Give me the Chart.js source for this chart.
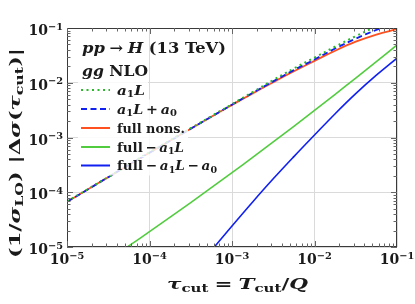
<!DOCTYPE html>
<html><head><meta charset="utf-8">
<script src="https://cdn.jsdelivr.net/npm/chart.js@4/dist/chart.umd.min.js"></script>
<style>html,body{margin:0;padding:0;background:#fff;}canvas{display:block;}</style>
</head><body>
<canvas id="c" width="415" height="304"></canvas>
<script>
// ---- data ----
const TAU = [1e-5,1.78e-5,3.16e-5,5.62e-5,1e-4,1.78e-4,3.16e-4,5.62e-4,1e-3,1.78e-3,3.16e-3,5.62e-3,1e-2,1.78e-2,3.16e-2,5.62e-2,1e-1];
const A1L = [6.76e-5,1.135e-4,1.905e-4,3.20e-4,5.37e-4,8.91e-4,1.479e-3,2.455e-3,4.07e-3,6.76e-3,1.122e-2,1.82e-2,2.88e-2,4.57e-2,7.08e-2,0.1072,0.1585];
const A1L_A0 = [6.68e-5,1.122e-4,1.884e-4,3.16e-4,5.25e-4,8.71e-4,1.445e-3,2.40e-3,3.98e-3,6.53e-3,1.059e-2,1.70e-2,2.66e-2,4.22e-2,6.38e-2,9.23e-2,0.1288];
const FULL_NONS = [6.68e-5,1.122e-4,1.884e-4,3.16e-4,5.25e-4,8.71e-4,1.445e-3,2.40e-3,3.94e-3,6.38e-3,1.023e-2,1.622e-2,2.51e-2,3.85e-2,5.62e-2,7.59e-2,9.55e-2];
const FULL_MINUS_A1L = [null,null,5.79e-6,1.047e-5,1.905e-5,3.50e-5,6.47e-5,1.211e-4,2.28e-4,4.34e-4,8.30e-4,1.603e-3,3.13e-3,6.14e-3,1.216e-2,2.43e-2,4.90e-2];
const FULL_MINUS_A1L_A0 = [null,null,null,null,null,null,3.02e-6,8.61e-6,2.42e-5,6.65e-5,1.758e-4,4.47e-4,1.109e-3,2.72e-3,6.32e-3,1.374e-2,2.82e-2];
const X_TICKS = [1e-5,1e-4,1e-3,1e-2,1e-1];
const X_TICK_EXP = ['\u22125','\u22124','\u22123','\u22122','\u22121'];
const Y_TICKS = [1e-5,1e-4,1e-3,1e-2,1e-1];
const Y_TICK_EXP = ['\u22125','\u22124','\u22123','\u22122','\u22121'];

// ---- styling ----
const FONT = '"DejaVu Serif", serif';
const RED = '#ff5020', GREEN_DOT = '#2db82d', GREEN = '#52cc3f', BLUE = '#1020f0';

function pts(arr){ return TAU.map((x,i)=>({x:x, y:arr[i]})); }

// r: roman bold, i: italic bold, s: subscript, sup: superscript, o: binary operator (spaced), rel: relation (spaced)
const LEGEND = [
  {ds:0, w:28,  parts:[['a','i'],['1','s'],['L','i']]},
  {ds:1, w:60,  parts:[['a','i'],['1','s'],['L','i'],['+','o'],['a','i'],['0','s']]},
  {ds:2, w:68,  parts:[['full nons.','r']]},
  {ds:3, w:67,  parts:[['full','r'],['\u2212','o'],['a','i'],['1','s'],['L','i']]},
  {ds:4, w:100, parts:[['full','r'],['\u2212','o'],['a','i'],['1','s'],['L','i'],['\u2212','o'],['a','i'],['0','s']]}
];

function setFont(ctx, st, size){
  const sub = (st==='s'||st==='sup');
  const sz = sub ? size*0.7 : size;
  ctx.font = (st==='i' ? 'italic ' : '') + 'bold ' + sz.toFixed(2) + 'px ' + FONT;
}
function pad(st,size){ return st==='o' ? size*0.2 : (st==='rel' ? size*0.28 : 0); }
function richWidth(ctx, parts, size){
  let w=0; for(const [t,st] of parts){ setFont(ctx,st,size); w+=ctx.measureText(t).width+2*pad(st,size); } return w;
}
// draws rich text with left edge x and baseline y; if target given, stretches horizontally to that width
function drawRich(ctx, x, y, parts, size, target){
  const w=richWidth(ctx,parts,size);
  const sx = target ? target/w : 1;
  ctx.save();
  ctx.translate(x,y); ctx.scale(sx,1);
  ctx.textBaseline='alphabetic'; ctx.textAlign='left';
  let cx=0;
  for(const [t,st] of parts){
    setFont(ctx,st,size);
    let dy=0; if(st==='s') dy=size*0.22; if(st==='sup') dy=-size*0.38;
    const p=pad(st,size);
    ctx.fillText(t,cx+p,dy);
    cx+=ctx.measureText(t).width+2*p;
  }
  ctx.restore();
  return w*sx;
}

const deco = {
  id:'deco',
  afterDatasetsDraw(chart){
    const ctx=chart.ctx, a=chart.chartArea, xs=chart.scales.x, ys=chart.scales.y;
    ctx.save();
    // legend row backgrounds (semi transparent)
    const LX=117, LY=[90,109,128,147,165.5];
    ctx.fillStyle='rgba(255,255,255,0.82)';
    LEGEND.forEach((e,k)=>{
      ctx.fillRect(78, LY[k]-9.5, LX+e.w+3-78, 19.5);
    });
    // frame
    ctx.strokeStyle='#3a3a3a'; ctx.lineWidth=1;
    ctx.strokeRect(Math.round(a.left)+0.5, Math.round(a.top)+0.5, Math.round(a.right-a.left)-1, Math.round(a.bottom-a.top)-1);
    // inner tick marks on all four sides
    ctx.strokeStyle='#666';
    for(let d=-5; d<=-2; d++){
      for(let m=1; m<=9; m++){
        const v=m*Math.pow(10,d);
        const L = (m===1)?6:3.5;
        const px=Math.round(xs.getPixelForValue(v))+0.5;
        const py=Math.round(ys.getPixelForValue(v))+0.5;
        ctx.beginPath();
        ctx.moveTo(px,a.bottom); ctx.lineTo(px,a.bottom-L);
        ctx.moveTo(px,a.top); ctx.lineTo(px,a.top+L);
        ctx.moveTo(a.left,py); ctx.lineTo(a.left+L,py);
        ctx.moveTo(a.right,py); ctx.lineTo(a.right-L,py);
        ctx.stroke();
      }
    }
    // tick labels
    ctx.fillStyle='#1a1a1a';
    X_TICKS.forEach((v,i)=>{
      const parts=[['10','r'],[X_TICK_EXP[i],'sup']];
      const w=richWidth(ctx,parts,14);
      drawRich(ctx, xs.getPixelForValue(v)-w/2, a.bottom+17, parts, 14);
    });
    Y_TICKS.forEach((v,i)=>{
      const parts=[['10','r'],[Y_TICK_EXP[i],'sup']];
      const w=richWidth(ctx,parts,14);
      drawRich(ctx, 63-w, ys.getPixelForValue(v)+7, parts, 14);
    });
    // axis titles
    const xt=[['\u03c4','i'],['cut','s'],['=','rel'],['T','i'],['cut','s'],['/','r'],['Q','i']];
    drawRich(ctx, 167, 289, xt, 15, 141);
    const yt=[['(1/','r'],['\u03c3','i'],['LO','s'],[')','r'],[' ','r'],['|\u0394','r'],['\u03c3','i'],['(','r'],['\u03c4','i'],['cut','s'],[')|','r']];
    ctx.save(); ctx.translate(20,258); ctx.rotate(-Math.PI/2);
    drawRich(ctx,0,0,yt,15,210);
    ctx.restore();
    // legend header
    drawRich(ctx, 82, 53, [['pp','i'],['\u2192','rel'],['H','i'],[' (13 TeV)','r']], 14.5, 144);
    drawRich(ctx, 82, 76, [['gg','i'],[' NLO','r']], 14.5, 66);
    // legend entries
    LEGEND.forEach((e,k)=>{
      const ds=chart.data.datasets[e.ds];
      ctx.save();
      ctx.strokeStyle=ds.borderColor; ctx.lineWidth=2;
      ctx.setLineDash(ds.borderDash||[]);
      ctx.beginPath(); ctx.moveTo(81,LY[k]); ctx.lineTo(110,LY[k]); ctx.stroke();
      ctx.restore();
      ctx.fillStyle='#1a1a1a';
      drawRich(ctx, LX, LY[k]+4.5, e.parts, 13.5, e.w);
    });
    ctx.restore();
  }
};

function gridColor(c){
  const v=c.tick && c.tick.value; if(!v) return 'transparent';
  const l=Math.log10(v); return Math.abs(l-Math.round(l))<1e-6 ? '#dadada' : 'transparent';
}

new Chart(document.getElementById('c'), {
  type:'line',
  data:{ datasets:[
    {label:'a1L', data:pts(A1L), borderColor:GREEN_DOT, borderWidth:2, borderDash:[2,3.5], pointRadius:0, tension:0.4},
    {label:'a1L+a0', data:pts(A1L_A0), borderColor:BLUE, borderWidth:1.8, borderDash:[6,3.5], pointRadius:0, tension:0.4},
    {label:'full nons.', data:pts(FULL_NONS), borderColor:RED, borderWidth:1.8, pointRadius:0, tension:0.4},
    {label:'full-a1L', data:pts(FULL_MINUS_A1L), borderColor:GREEN, borderWidth:1.6, pointRadius:0, tension:0.4},
    {label:'full-a1L-a0', data:pts(FULL_MINUS_A1L_A0), borderColor:BLUE, borderWidth:1.6, pointRadius:0, tension:0.4}
  ]},
  options:{
    responsive:false, animation:false, devicePixelRatio:1,
    layout:{padding:{left:67,top:28,right:18,bottom:57}},
    plugins:{legend:{display:false}, tooltip:{enabled:false}},
    scales:{
      x:{type:'logarithmic', min:1e-5, max:1e-1, ticks:{display:false}, grid:{color:gridColor, drawTicks:false}, border:{display:false}},
      y:{type:'logarithmic', min:1e-5, max:1e-1, ticks:{display:false}, grid:{color:gridColor, drawTicks:false}, border:{display:false}}
    }
  },
  plugins:[deco]
});
</script>
</body></html>
